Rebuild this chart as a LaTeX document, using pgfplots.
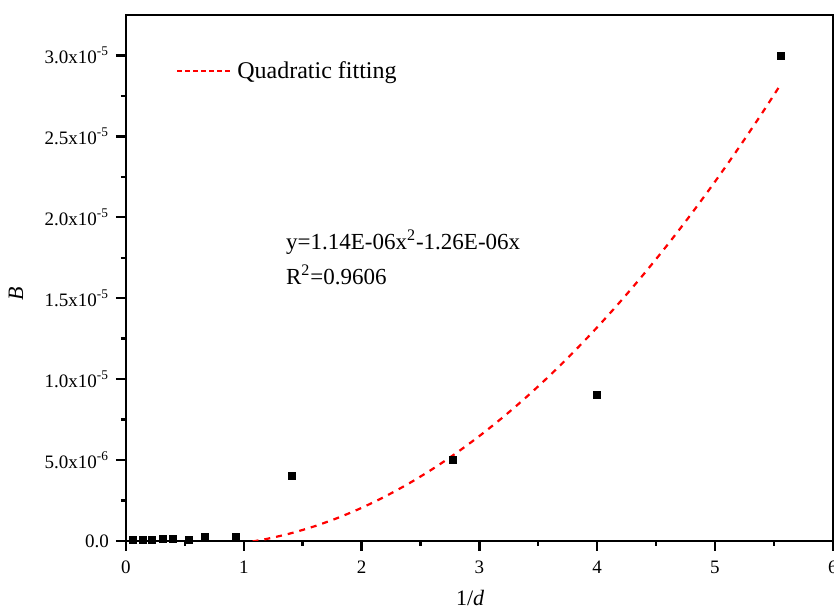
\documentclass[border=0pt]{standalone}
\usepackage{fontspec}
\setmainfont{Liberation Serif}
\usepackage{pgfplots}
\pgfplotsset{compat=1.18}

\begin{document}
\begin{tikzpicture}
\begin{axis}[
  scale only axis,
  width=353.5pt,
  height=263pt,
  xmin=0, xmax=6,
  ymin=0, ymax=3.25e-5,
  xtick={0,1,2,3,4,5,6},
  minor x tick num=1,
  ytick={0,5e-6,1e-5,1.5e-5,2e-5,2.5e-5,3e-5},
  yticklabels={0.0,5.0x10\textsuperscript{-6},1.0x10\textsuperscript{-5},1.5x10\textsuperscript{-5},2.0x10\textsuperscript{-5},2.5x10\textsuperscript{-5},3.0x10\textsuperscript{-5}},
  minor y tick num=1,
  scaled y ticks=false,
  tick align=outside,
  xtick pos=bottom,
  ytick pos=left,
  major tick length=5pt,
  minor tick length=2.5pt,
  axis line style={line width=1.2pt},
  tick style={black, line width=1.2pt},
  tick label style={font=\fontsize{9.5}{11}\selectfont},
  /pgf/number format/assume math mode=true,
  xticklabel style={yshift=-1.5pt},
  xlabel={1/\textit{d}},
  ylabel={\textit{B}},
  label style={font=\fontsize{11}{13}\selectfont},
  xlabel style={at={(axis description cs:0.487,-0.108)}, anchor=center},
  ylabel style={at={(axis description cs:-0.1556,0.47)}, anchor=center},
  legend style={draw=none, fill=none, at={(axis description cs:0.062,0.928)}, anchor=north west, font=\fontsize{12}{14}\selectfont},
  legend image code/.code={\draw[#1, dash pattern=on 2.2pt off 1.8pt] (0pt,0pt) -- (27.5pt,0pt);},
]
% measured points
\addplot[only marks, mark=square*, mark size=1.75pt, black, forget plot] coordinates {
  (0.057,5e-8) (0.142,5e-8) (0.218,8e-8) (0.312,1e-7) (0.397,1e-7)
  (0.538,4e-8) (0.674,2.5e-7) (0.929,2.7e-7)
  (1.408,4.0e-6) (2.776,5.0e-6) (4.0,9.0e-6) (5.556,3.0e-5)
};
% quadratic fit y = 1.14e-6 x^2 - 1.26e-6 x
\addplot[red, line width=1.1pt, dash pattern=on 3pt off 3pt, smooth] coordinates {
  (0.06,-0.0715e-6) (0.2,-0.206e-6) (0.4,-0.322e-6) (0.6,-0.346e-6)
  (0.8,-0.278e-6) (1.0,-0.12e-6) (1.2,0.13e-6) (1.4,0.470e-6)
  (1.6,0.902e-6) (1.8,1.426e-6) (2.0,2.04e-6) (2.2,2.746e-6)
  (2.4,3.542e-6) (2.6,4.430e-6) (2.8,5.410e-6) (3.0,6.48e-6)
  (3.2,7.642e-6) (3.4,8.894e-6) (3.6,10.238e-6) (3.8,11.674e-6)
  (4.0,13.2e-6) (4.2,14.818e-6) (4.4,16.526e-6) (4.6,18.326e-6)
  (4.8,20.218e-6) (5.0,22.2e-6) (5.2,24.274e-6) (5.4,26.438e-6)
  (5.556,28.19e-6)
};
\addlegendentry{Quadratic fitting}
\node[anchor=west, inner sep=0pt, font=\fontsize{11.5}{13}\selectfont] at (axis description cs:0.226,0.568) {y=1.14E-06x\textsuperscript{2}-1.26E-06x};
\node[anchor=west, inner sep=0pt, font=\fontsize{11.5}{13}\selectfont] at (axis description cs:0.226,0.506) {R\textsuperscript{2}=0.9606};
\end{axis}
\pgfresetboundingbox
\path ([shift={(-63pt,7.5pt)}]current axis.north west) rectangle ([shift={(0.6pt,-37pt)}]current axis.south east);
\end{tikzpicture}
\end{document}
